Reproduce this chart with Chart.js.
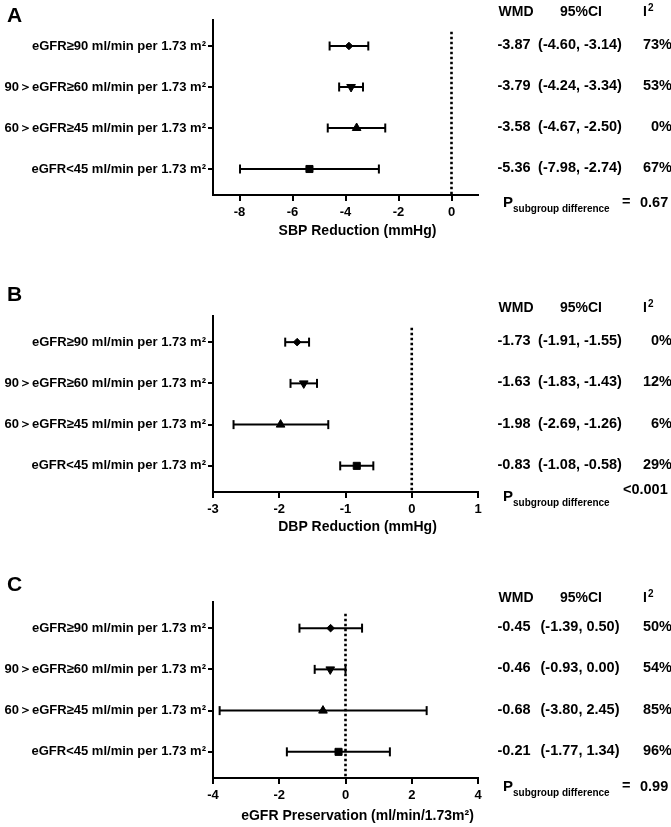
<!DOCTYPE html>
<html>
<head>
<meta charset="utf-8">
<script src="https://cdn.jsdelivr.net/npm/chart.js@4.4.1/dist/chart.umd.min.js"></script>
<style>
  body { margin: 0; background: #fff; }
  .panel { position: absolute; left: 0; }
</style>
</head>
<body>
<div class="panel" style="top:0px"><canvas id="chartA" width="671" height="270"></canvas></div>
<div class="panel" style="top:270px"><canvas id="chartB" width="671" height="270"></canvas></div>
<div class="panel" style="top:540px"><canvas id="chartC" width="671" height="287"></canvas></div>
<script>
// subgroups (same for every panel)
const rowLabels = [
  'eGFR≥90 ml/min per 1.73 m²',
  '90＞eGFR≥60 ml/min per 1.73 m²',
  '60＞eGFR≥45 ml/min per 1.73 m²',
  'eGFR<45 ml/min per 1.73 m²'
];

// A - SBP
const sbpWmd = [-3.87, -3.79, -3.58, -5.36];
const sbpLow = [-4.60, -4.24, -4.67, -7.98];
const sbpHigh = [-3.14, -3.34, -2.50, -2.74];
const sbpI2 = ['73%', '53%', '0%', '67%'];
const sbpP = '0.67';
const sbpTicks = [-8, -6, -4, -2, 0];

// B - DBP
const dbpWmd = [-1.73, -1.63, -1.98, -0.83];
const dbpLow = [-1.91, -1.83, -2.69, -1.08];
const dbpHigh = [-1.55, -1.43, -1.26, -0.58];
const dbpI2 = ['0%', '12%', '6%', '29%'];
const dbpP = '<0.001';
const dbpTicks = [-3, -2, -1, 0, 1];

// C - eGFR
const egfrWmd = [-0.45, -0.46, -0.68, -0.21];
const egfrLow = [-1.39, -0.93, -3.80, -1.77];
const egfrHigh = [0.50, 0.00, 2.45, 1.34];
const egfrI2 = ['50%', '54%', '85%', '96%'];
const egfrP = '0.99';
const egfrTicks = [-4, -2, 0, 2, 4];

const FONT = '"Liberation Sans", Arial, sans-serif';
const Y_MIN = 0.366, Y_MAX = 4.634;

const forestText = {
  id: 'forestText',
  afterDraw(chart, args, o) {
    const ctx = chart.ctx;
    const ys = chart.scales.y;
    const area = chart.chartArea;
    ctx.save();
    ctx.fillStyle = '#000';
    ctx.textBaseline = 'middle';

    ctx.font = 'bold 21px ' + FONT;
    ctx.textAlign = 'left';
    ctx.fillText(o.letter, 7, o.letterY);

    ctx.font = 'bold 14px ' + FONT;
    ctx.textAlign = 'center';
    ctx.fillText(o.title, (area.left + area.right) / 2 + 12, o.titleY);

    // table header
    ctx.font = 'bold 14px ' + FONT;
    ctx.fillText('WMD', 516, o.headerY);
    ctx.fillText('95%CI', 581, o.headerY);
    ctx.textAlign = 'left';
    ctx.fillText('I', 643, o.headerY);
    ctx.font = 'bold 10px ' + FONT;
    ctx.fillText('2', 648, o.headerY - 4);

    ctx.font = 'bold 14.5px ' + FONT;
    o.wmd.forEach((v, i) => {
      const y = ys.getPixelForValue(i + 1) - 1;
      ctx.textAlign = 'center';
      ctx.fillText(v.toFixed(2), 514, y);
      ctx.fillText('(' + o.low[i].toFixed(2) + ', ' + o.high[i].toFixed(2) + ')', 580, y);
      ctx.textAlign = 'right';
      ctx.fillText(o.i2[i], 672, y);
    });

    // subgroup difference
    ctx.textAlign = 'left';
    ctx.font = 'bold 15px ' + FONT;
    ctx.fillText('P', 503, o.pY);
    ctx.font = 'bold 10px ' + FONT;
    ctx.fillText('subgroup difference', 513, o.pY + 6);
    ctx.font = 'bold 14.5px ' + FONT;
    if (o.p.charAt(0) === '<') {
      ctx.fillText(o.p, 623, o.pY - 7);
    } else {
      ctx.fillText('=', 622, o.pY - 1);
      ctx.fillText(o.p, 640, o.pY);
    }
    ctx.restore();
  }
};

function forestPanel(id, o) {
  const ciSets = o.wmd.map((v, i) => ({
    data: [{ x: o.low[i], y: i + 1 }, { x: o.high[i], y: i + 1 }],
    showLine: true,
    borderColor: '#000',
    borderWidth: 2,
    pointStyle: 'line',
    rotation: 90,
    pointRadius: 4.5,
    pointBorderWidth: 2,
    pointBorderColor: '#000',
    order: 1
  }));

  const marks = {
    data: o.wmd.map((v, i) => ({ x: v, y: i + 1 })),
    pointStyle: ['rectRot', 'triangle', 'triangle', 'rect'],
    rotation: [0, 180, 0, 0],
    pointRadius: [3.8, 5, 5, 5],
    backgroundColor: '#000',
    borderColor: '#000',
    borderWidth: 1,
    order: 0
  };

  const zeroLine = {
    data: [{ x: 0, y: 0.65 }, { x: 0, y: Y_MAX }],
    showLine: true,
    borderColor: '#000',
    borderWidth: 2.6,
    borderDash: [2.5, 2.5],
    borderCapStyle: 'butt',
    pointRadius: 0,
    order: 2
  };

  new Chart(document.getElementById(id), {
    type: 'scatter',
    data: { datasets: [marks].concat(ciSets, [zeroLine]) },
    options: {
      responsive: false,
      animation: false,
      events: [],
      layout: { padding: { left: 0, right: 193, top: o.top, bottom: 0 } },
      plugins: {
        legend: { display: false },
        tooltip: { enabled: false },
        forestText: o
      },
      scales: {
        x: {
          type: 'linear',
          min: o.xMin,
          max: o.xMax,
          afterBuildTicks: s => { s.ticks = o.ticks.map(v => ({ value: v })); },
          afterFit: s => { s.height = o.height - o.bottom; },
          grid: { drawOnChartArea: false, color: '#000', lineWidth: 2, tickLength: 6 },
          border: { color: '#000', width: 2 },
          ticks: { color: '#000', padding: 4, font: { family: FONT, weight: 'bold', size: 13 } }
        },
        y: {
          type: 'linear',
          reverse: true,
          min: Y_MIN,
          max: Y_MAX,
          afterBuildTicks: s => { s.ticks = [1, 2, 3, 4].map(v => ({ value: v })); },
          afterFit: s => { s.width = 213; },
          grid: { drawOnChartArea: false, color: '#000', lineWidth: 2, tickLength: 5 },
          border: { color: '#000', width: 2 },
          ticks: {
            color: '#000',
            padding: 2,
            font: { family: FONT, weight: 'bold', size: 13 },
            callback: v => rowLabels[v - 1]
          }
        }
      }
    },
    plugins: [forestText]
  });
}

forestPanel('chartA', {
  letter: 'A', title: 'SBP Reduction (mmHg)',
  wmd: sbpWmd, low: sbpLow, high: sbpHigh, i2: sbpI2, p: sbpP, ticks: sbpTicks,
  xMin: -9, xMax: 1, height: 270, top: 20, bottom: 195,
  letterY: 16, headerY: 12, pY: 203, titleY: 231
});

forestPanel('chartB', {
  letter: 'B', title: 'DBP Reduction (mmHg)',
  wmd: dbpWmd, low: dbpLow, high: dbpHigh, i2: dbpI2, p: dbpP, ticks: dbpTicks,
  xMin: -3, xMax: 1, height: 270, top: 46, bottom: 222,
  letterY: 25, headerY: 38, pY: 227, titleY: 257
});

forestPanel('chartC', {
  letter: 'C', title: 'eGFR Preservation (ml/min/1.73m²)',
  wmd: egfrWmd, low: egfrLow, high: egfrHigh, i2: egfrI2, p: egfrP, ticks: egfrTicks,
  xMin: -4, xMax: 4, height: 287, top: 62, bottom: 238,
  letterY: 45, headerY: 58, pY: 247, titleY: 276
});
</script>
</body>
</html>
